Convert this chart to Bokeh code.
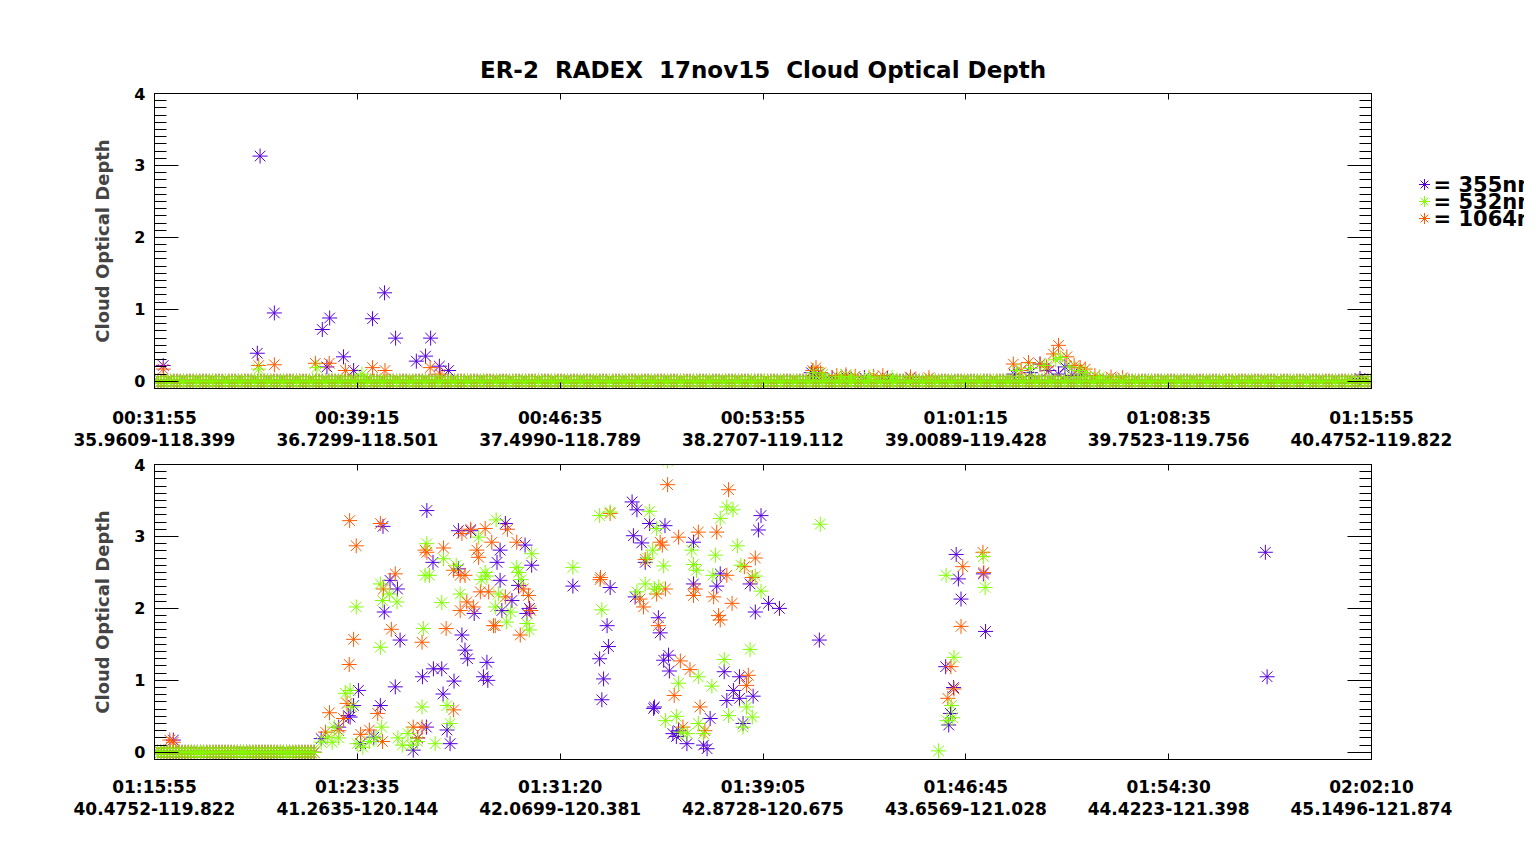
import numpy as np
from bokeh.plotting import figure
from bokeh.models import (LinearAxis, Range1d, FixedTicker, SingleIntervalTicker)
from bokeh.core.properties import value
from bokeh.layouts import column, row
from bokeh.embed import file_html
from bokeh.resources import INLINE

FONT = "DejaVu Sans"
C355 = "#5500dc"
C532 = "#80ff00"
C1064 = "#ff5a00"

# ---- top panel: seconds after 00:31:55 ----
top_span = 2640
top_ticks = [0, 440, 880, 1320, 1760, 2200, 2640]
top_times = ["00:31:55", "00:39:15", "00:46:35", "00:53:55", "01:01:15", "01:08:35", "01:15:55"]
top_pos = ["35.9609-118.399", "36.7299-118.501", "37.4990-118.789", "38.2707-119.112",
           "39.0089-119.428", "39.7523-119.756", "40.4752-119.822"]

top_355 = [(19, 0.22), (223, 0.39), (229, 3.13), (260, 0.95), (364, 0.72), (374, 0.20),
           (380, 0.88), (410, 0.34), (432, 0.15), (473, 0.87), (499, 1.23), (523, 0.60),
           (568, 0.28), (588, 0.35), (599, 0.60), (618, 0.21), (638, 0.15),
           (1425, 0.12), (1432, 0.08), (1440, 0.10), (1470, 0.05), (1500, 0.06), (1540, 0.05),
           (1590, 0.04), (1640, 0.05), (1865, 0.10), (1900, 0.12), (1921, 0.24), (1940, 0.15),
           (1961, 0.10), (1975, 0.20), (1990, 0.08), (2010, 0.10), (2615, 0.04)]
top_1064 = [(19, 0.17), (226, 0.22), (260, 0.23), (349, 0.25), (379, 0.25), (414, 0.15),
            (473, 0.19), (500, 0.15), (598, 0.19), (620, 0.10), (1428, 0.15), (1435, 0.19),
            (1445, 0.12), (1480, 0.08), (1500, 0.09), (1520, 0.07), (1560, 0.07), (1580, 0.08),
            (1640, 0.06), (1680, 0.05), (1863, 0.24), (1880, 0.15), (1896, 0.26), (1921, 0.24),
            (1935, 0.20), (1950, 0.38), (1961, 0.50), (1979, 0.34), (1995, 0.22), (2008, 0.19),
            (2019, 0.17), (2040, 0.08), (2075, 0.06), (2100, 0.05)]
top_532 = [(226, 0.17), (352, 0.19), (450, 0.10), (1430, 0.12), (1450, 0.10), (1490, 0.07),
           (1510, 0.06), (1550, 0.06), (1600, 0.05), (1870, 0.15), (1900, 0.18), (1930, 0.22),
           (1955, 0.30), (1965, 0.33), (1985, 0.20), (2005, 0.15), (2020, 0.12), (2050, 0.06)]
top_zero_runs = [(0, 2640)]

# ---- bottom panel: seconds after 01:15:55 ----
bot_span = 2775
bot_ticks = [0, 462.5, 925, 1387.5, 1850, 2312.5, 2775]
bot_times = ["01:15:55", "01:23:35", "01:31:20", "01:39:05", "01:46:45", "01:54:30", "02:02:10"]
bot_pos = ["40.4752-119.822", "41.2635-120.144", "42.0699-120.381", "42.8728-120.675",
           "43.6569-121.028", "44.4223-121.398", "45.1496-121.874"]

bot_355 = [(43, 0.17), (380, 0.19), (420, 0.35), (442, 0.51), (446, 0.49), (454, 0.65),
           (465, 0.86), (470, 0.12), (500, 0.21), (515, 0.65), (521, 3.14), (524, 1.95),
           (537, 2.39), (549, 0.91), (554, 2.27), (560, 1.56), (590, 0.03), (600, 0.20),
           (611, 1.05), (620, 0.35), (621, 3.36), (635, 2.64), (636, 1.16), (655, 1.16),
           (658, 0.81), (667, 0.31), (674, 0.12), (683, 0.99), (693, 2.55), (693, 3.08),
           (701, 1.63), (708, 1.42), (714, 1.30), (721, 3.08), (729, 1.93), (750, 1.05),
           (758, 1.25), (760, 1.00), (781, 2.64), (788, 2.81), (788, 2.39), (792, 1.97),
           (800, 3.18), (815, 2.11), (830, 2.32), (845, 2.88), (849, 1.93), (855, 2.00),
           (860, 2.60), (954, 2.31), (1015, 1.30), (1020, 0.73), (1024, 1.02), (1032, 1.76),
           (1035, 1.47), (1039, 2.29), (1089, 3.48), (1092, 3.01), (1096, 2.16), (1100, 3.37),
           (1111, 2.91), (1119, 2.64), (1129, 3.18), (1138, 0.61), (1140, 0.63), (1149, 1.87),
           (1153, 1.66), (1161, 1.28), (1164, 3.15), (1172, 1.35), (1174, 1.13), (1182, 0.26),
           (1190, 0.22), (1195, 0.30), (1214, 0.12), (1229, 2.92), (1229, 2.34), (1252, 0.10),
           (1260, 0.05), (1267, 0.47), (1282, 2.31), (1290, 2.48), (1299, 1.12), (1305, 0.72),
           (1320, 0.86), (1334, 1.05), (1334, 0.75), (1342, 0.40), (1358, 2.34), (1365, 0.78),
           (1370, 1.95), (1377, 3.09), (1383, 3.29), (1400, 2.07), (1425, 2.00), (1516, 1.56),
           (1804, 1.19), (1811, 0.38), (1815, 0.54), (1822, 0.90), (1828, 2.75), (1833, 2.41),
           (1839, 2.13), (1890, 2.48), (1895, 1.68), (2533, 2.78), (2537, 1.05)]
bot_1064 = [(35, 0.17), (43, 0.14), (390, 0.28), (399, 0.55), (420, 0.30), (431, 0.47),
            (439, 0.68), (444, 1.22), (445, 3.22), (454, 1.57), (460, 2.87), (470, 0.25),
            (490, 0.31), (509, 0.54), (515, 3.18), (520, 0.15), (522, 2.27), (540, 1.71),
            (549, 2.48), (590, 0.35), (600, 0.20), (610, 1.53), (610, 0.35), (617, 2.81),
            (621, 2.78), (659, 2.84), (665, 1.72), (682, 0.59), (682, 2.53), (697, 2.46),
            (697, 1.97), (701, 3.04), (708, 2.46), (712, 2.09), (721, 3.10), (727, 2.02),
            (735, 2.81), (739, 2.71), (743, 2.23), (754, 3.11), (762, 2.23), (769, 2.92),
            (773, 1.76), (777, 1.76), (800, 2.16), (805, 3.10), (826, 2.92), (834, 1.63),
            (841, 2.27), (853, 2.18), (858, 1.97), (1016, 2.40), (1017, 2.43), (1039, 3.32),
            (1107, 2.13), (1115, 2.02), (1119, 2.68), (1145, 2.20), (1149, 1.76), (1153, 2.92),
            (1158, 2.88), (1165, 2.27), (1170, 3.72), (1185, 0.79), (1195, 2.99), (1199, 1.27),
            (1205, 0.35), (1221, 1.15), (1229, 2.18), (1233, 2.27), (1240, 3.06), (1244, 0.63),
            (1255, 0.30), (1275, 2.16), (1282, 3.06), (1286, 1.90), (1290, 1.84), (1305, 2.46),
            (1309, 3.65), (1317, 2.07), (1345, 2.58), (1350, 0.93), (1354, 1.07), (1363, 2.43),
            (1370, 2.70), (1809, 0.75), (1816, 1.19), (1823, 0.88), (1839, 1.75), (1843, 2.58),
            (1889, 2.78), (1891, 2.50)]
bot_532 = [(380, 0.14), (395, 0.21), (405, 0.14), (410, 0.35), (420, 0.20), (435, 0.82),
           (446, 0.86), (450, 0.63), (460, 2.02), (462, 0.12), (475, 0.07), (490, 0.15),
           (505, 0.20), (515, 2.34), (515, 1.46), (518, 0.35), (520, 2.11), (536, 2.20),
           (553, 2.09), (555, 0.20), (565, 0.10), (578, 0.26), (585, 0.10), (600, 0.15),
           (610, 0.63), (613, 1.72), (617, 2.46), (621, 2.90), (627, 2.46), (640, 0.12),
           (655, 2.08), (659, 2.69), (667, 0.65), (674, 0.40), (688, 2.60), (697, 2.20),
           (739, 2.99), (745, 2.40), (754, 2.50), (758, 2.45), (777, 2.02), (779, 3.23),
           (784, 2.20), (803, 1.81), (812, 1.95), (826, 2.57), (830, 2.50), (836, 2.40),
           (849, 1.79), (855, 1.70), (860, 2.76), (954, 2.57), (1015, 3.29), (1020, 1.98),
           (1039, 3.34), (1100, 2.23), (1119, 2.34), (1124, 2.70), (1129, 3.35), (1136, 2.81),
           (1140, 2.27), (1145, 3.11), (1150, 2.30), (1161, 2.59), (1165, 0.44), (1170, 4.05),
           (1190, 0.50), (1195, 0.96), (1200, 0.28), (1215, 0.26), (1225, 2.81), (1229, 2.61),
           (1236, 2.53), (1240, 1.05), (1240, 0.40), (1252, 0.26), (1271, 0.92), (1273, 2.46),
           (1279, 2.74), (1290, 3.25), (1299, 1.29), (1305, 3.41), (1309, 0.51), (1319, 3.37),
           (1329, 2.87), (1337, 2.60), (1342, 0.35), (1350, 0.63), (1358, 1.43), (1363, 0.49),
           (1370, 2.45), (1383, 2.24), (1518, 3.17), (1788, 0.02), (1805, 2.46), (1807, 0.44),
           (1817, 0.65), (1820, 0.48), (1823, 1.32), (1890, 2.72), (1894, 2.29)]
bot_zero_runs = [(0, 370)]

zero_step = 7  # seconds between samples that read 0 in the flat stretches

legend_labels = ["= 355nm", "= 532nm", "= 1064nm"]
legend_colors = [C355, C532, C1064]


def series(points, zero_runs):
    t = [p[0] for p in points]
    v = [p[1] for p in points]
    for a, b in zero_runs:
        zt = np.arange(a, b + 1, zero_step)
        t += list(zt)
        v += [0.0] * len(zt)
    return t, v


def stars(p, t, v, color, size=15):
    # IDL psym=2: a "+" and an "x" on top of each other
    p.scatter(t, v, marker="cross", size=size, line_color=color, line_width=1)
    p.scatter(t, v, marker="x", size=size, line_color=color, line_width=1)


def time_labels(axis, ticks, times, pos, standoff):
    axis.ticker = FixedTicker(ticks=ticks, minor_ticks=[])
    axis.major_label_overrides = {t: f"{a}\n{b}" for t, a, b in zip(ticks, times, pos)}
    axis.major_label_standoff = standoff
    axis.major_label_text_font = FONT
    axis.major_label_text_font_style = "bold"
    axis.major_label_text_font_size = "17px"
    axis.major_label_text_line_height = 1.1
    axis.major_label_text_color = "black"


def blank_axis(axis, ticks):
    axis.major_label_overrides = {t: "" for t in ticks}
    axis.major_label_standoff = 0
    axis.major_label_text_font_size = "1px"


def panel(span, ticks, times, pos, data, zero_runs, width, height, top, bottom, right,
          labels=True, title=None):
    p = figure(width=width, height=height, output_backend="svg", toolbar_location=None,
               x_range=Range1d(0, span), y_range=Range1d(-0.1, 4.0),
               min_border_left=154, min_border_right=right,
               min_border_top=top, min_border_bottom=bottom,
               title=title)
    p.xgrid.visible = False
    p.ygrid.visible = False
    p.outline_line_color = "black"
    p.outline_line_width = 1

    xa = p.xaxis[0]
    xa.major_tick_in = 6
    xa.major_tick_out = 0
    if labels:
        time_labels(xa, ticks, times, pos, 17)
    else:
        xa.ticker = FixedTicker(ticks=ticks, minor_ticks=[])
        blank_axis(xa, ticks)

    ya = p.yaxis[0]
    ya.ticker = SingleIntervalTicker(interval=1, num_minor_ticks=10)
    ya.major_tick_in = 24
    ya.major_tick_out = 0
    ya.minor_tick_in = 12
    ya.minor_tick_out = 0
    ya.major_label_standoff = 9
    ya.major_label_text_font = FONT
    ya.major_label_text_font_style = "bold"
    ya.major_label_text_font_size = "16px"
    ya.major_label_text_color = "black"
    ya.axis_label = "Cloud Optical Depth"
    ya.axis_label_text_font = FONT
    ya.axis_label_text_font_style = "bold"
    ya.axis_label_text_font_size = "18px"
    ya.axis_label_standoff = 18

    # frame ticks on the top and right sides, no labels
    top_ax = LinearAxis(ticker=FixedTicker(ticks=ticks, minor_ticks=[]),
                        major_tick_in=6, major_tick_out=0)
    blank_axis(top_ax, ticks)
    p.add_layout(top_ax, "above")
    right_ax = LinearAxis(ticker=SingleIntervalTicker(interval=1, num_minor_ticks=10),
                          major_tick_in=24, major_tick_out=0, minor_tick_in=12,
                          minor_tick_out=0)
    blank_axis(right_ax, range(5))
    p.add_layout(right_ax, "right")

    for pts, color in data:
        t, v = series(pts, zero_runs)
        stars(p, t, v, color)
    return p


title = "ER-2 \u00a0RADEX \u00a017nov15 \u00a0Cloud Optical Depth"
p1 = panel(top_span, top_ticks, top_times, top_pos,
           [(top_355, C355), (top_1064, C1064), (top_532, C532)],
           top_zero_runs, 1374, 392, 93, 4, 3, labels=False, title=title)
p1.title.text_font = FONT
p1.title.text_font_style = "bold"
p1.title.text_font_size = "23px"
p1.title.text_color = "black"
p1.title.align = "center"
p1.title.standoff = 22

# legend strip to the right of the top frame (y in pixels above the frame bottom)
leg = figure(width=150, height=392, output_backend="svg", toolbar_location=None,
             x_range=Range1d(0, 150), y_range=Range1d(0, 295),
             min_border_left=0, min_border_right=0, min_border_top=93, min_border_bottom=4)
leg.axis.visible = False
leg.xgrid.visible = False
leg.ygrid.visible = False
leg.outline_line_color = None
row_y = [204, 187, 170]
for lab, col, y in zip(legend_labels, legend_colors, row_y):
    stars(leg, [50], [y], col, size=11)
    leg.text([59], [y], text=[lab], text_font=value(FONT), text_font_style="bold",
             text_font_size="21px", text_baseline="middle", text_align="left",
             text_color="black")

# time / position labels of the top panel, on a full-width strip so none is pushed in
strip = figure(width=1524, height=64, output_backend="svg", toolbar_location=None,
               x_range=Range1d(0, top_span), y_range=Range1d(0, 1),
               min_border_left=154, min_border_right=153, min_border_top=0,
               min_border_bottom=62)
strip.xgrid.visible = False
strip.ygrid.visible = False
strip.yaxis.visible = False
strip.outline_line_color = None
sa = strip.xaxis[0]
time_labels(sa, top_ticks, top_times, top_pos, 13)
sa.major_tick_in = 0
sa.major_tick_out = 0
sa.axis_line_color = None

p2 = panel(bot_span, bot_ticks, bot_times, bot_pos,
           [(bot_355, C355), (bot_1064, C1064), (bot_532, C532)],
           bot_zero_runs, 1524, 373, 8, 70, 153)

layout = column(row(p1, leg, spacing=0), strip, p2, spacing=0)
open("out.html", "w").write(file_html(layout, INLINE))
